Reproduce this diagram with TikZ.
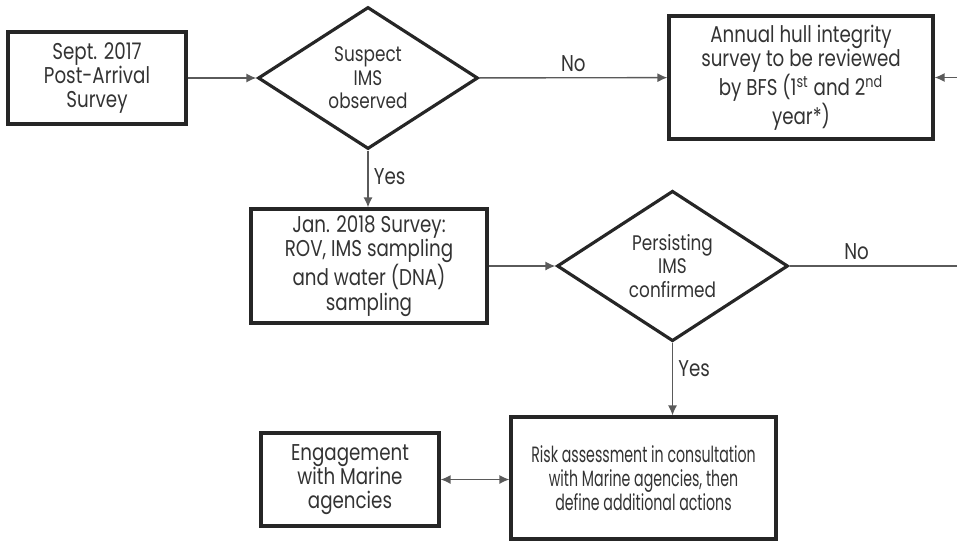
\documentclass[tikz,border=0pt]{standalone}
\usepackage{fontspec}
\setmainfont{Poppins}[FakeStretch=0.8]
\newfontfamily\narrowfont{Poppins}[FakeStretch=0.64]
\usetikzlibrary{shapes.geometric,arrows.meta}
\definecolor{boxline}{HTML}{262626}
\definecolor{arrowgray}{HTML}{5A5A5A}
\definecolor{textgray}{HTML}{333333}

\begin{document}
\begin{tikzpicture}
[
font=\fontsize{13}{13.8}\selectfont,
box/.style 2 args={draw=boxline,line width=1.8pt,rectangle,align=center,text=textgray,minimum width=#1,minimum height=#2,inner sep=0pt},
decision/.style 2 args={draw=boxline,line width=1.8pt,diamond,align=center,text=textgray,minimum width=#1,minimum height=#2,inner sep=0pt,font=\fontsize{12}{13.4}\selectfont},
widetext/.style={font=\narrowfont\fontsize{12.6}{13.8}\selectfont},
flow/.style={draw=arrowgray,line width=0.8pt,-{Latex[length=2mm,width=1.8mm]}},
lbl/.style={text=textgray,inner sep=3pt},
]
\useasboundingbox (0,0) rectangle (19.14,-10.82);

%Place the nodes
\node[box={3.56cm}{1.84cm}] (arrival) at (1.94,-1.56) {Sept. 2017\\Post-Arrival\\Survey};
\node[decision={4.4cm}{2.84cm}] (suspect) at (7.36,-1.56) {Suspect\\IMS\\observed};
\node[box={5.28cm}{2.46cm}] (annual) at (16.02,-1.55) {Annual hull integrity\\survey to be reviewed\\by BFS (1\textsuperscript{st} and 2\textsuperscript{nd}\\year*)\vphantom{\rule{0pt}{0.2cm}}};
\node[box={4.72cm}{2.28cm}] (jan) at (7.38,-5.32) {Jan. 2018 Survey:\\ROV, IMS sampling\\and water (DNA)\\sampling};
\node[decision={4.62cm}{2.68cm}] (persist) at (13.45,-5.32) {Persisting\\IMS\\confirmed};
\node[box={5.3cm}{2.44cm},widetext] (risk) at (12.87,-9.56) {Risk assessment in consultation\\with Marine agencies, then\\define additional actions};
\node[box={3.56cm}{1.86cm}] (engage) at (7.0,-9.59) {Engagement\\with Marine\\agencies};
\coordinate (rtop) at (19.14,-1.55);
\coordinate (rmid) at (19.14,-5.32);

%Draw the connections
\draw[flow] (arrival) -- (suspect);
\draw[flow] (suspect) -- node[lbl,above] {No} (annual);
\draw[flow] (suspect.south) -- node[lbl,right,pos=0.45] {Yes} (suspect.south |- jan.north);
\draw[flow] (rtop) -- (annual);
\draw[flow] (jan) -- (persist);
\draw[draw=arrowgray,line width=0.8pt] (persist) -- node[lbl,above,pos=0.4] {No} (rmid);
\draw[flow] (persist.south) -- node[lbl,right,pos=0.35] {Yes} (persist.south |- risk.north);
\draw[flow,{Latex[length=2mm,width=1.8mm]}-{Latex[length=2mm,width=1.8mm]}] (engage.east) -- (engage.east -| risk.west);
\end{tikzpicture}
\end{document}
